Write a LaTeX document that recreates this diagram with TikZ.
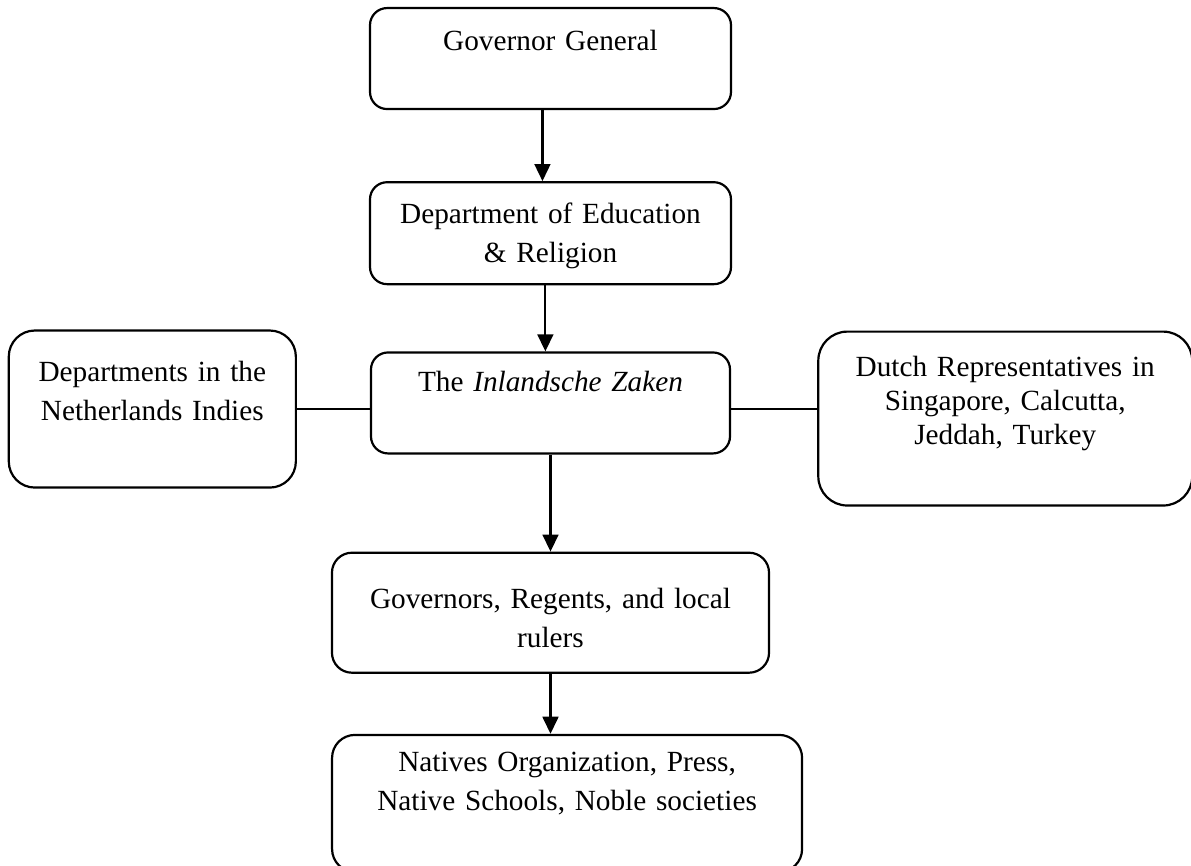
\documentclass[tikz,border=0pt]{standalone}
\usepackage{fontspec}
\setmainfont{Liberation Serif}
\usepackage{tikz}
\usetikzlibrary{positioning}
\usetikzlibrary{arrows.meta}
\tikzstyle{arrow} = [line width=0.9pt,-{Triangle[length=7pt,width=6.5pt]}]
\tikzstyle{orgbox} = [draw,line width=0.9pt,align=center,inner xsep=4pt,inner ysep=0pt,font=\fontsize{12pt}{16pt}\selectfont]

\begin{document}
\begin{tikzpicture}
	\useasboundingbox (0,0) rectangle (488.3pt,-354.65pt);

	%Nodes
	\node [orgbox,rounded corners=7pt,text width=140pt,text height=17.6pt,text depth=23.8pt] (GovGen) at (225.7pt,-24pt) {Governor General};
	\node [orgbox,rounded corners=7pt,text width=140pt,text height=16.8pt,text depth=25pt,below=29.1pt of GovGen] (Edu) {Department of Education\\ \& Religion};
	\node [orgbox,rounded corners=7pt,text width=139.2pt,text height=16pt,text depth=25.4pt,below=27.1pt of Edu] (Zaken) {The \textit{Inlandsche Zaken}};
	\node [orgbox,rounded corners=10.7pt,text width=109.7pt,text height=21pt,text depth=43.4pt,left=29.9pt of Zaken,yshift=-2.5pt] (Depts) {Departments in the\\ Netherlands Indies};
	\node [orgbox,rounded corners=11.9pt,text width=145.3pt,text height=18.5pt,text depth=52.8pt,font=\fontsize{12pt}{13.8pt}\selectfont,right=35.3pt of Zaken,yshift=-6.4pt] (Reps) {Dutch Representatives in\\ Singapore, Calcutta,\\ Jeddah, Turkey};
	\node [orgbox,rounded corners=8.2pt,text width=171.2pt,text height=22.8pt,text depth=26.4pt,below=39.8pt of Zaken] (Rulers) {Governors, Regents, and local\\ rulers};
	\node [orgbox,rounded corners=9.4pt,text width=184.7pt,text height=15pt,text depth=41.2pt,below=24.6pt of Rulers,xshift=6.8pt] (Natives) {Natives Organization, Press,\\ Native Schools, Noble societies};

	%Lines
	\draw[arrow] ([xshift=-3.3pt]GovGen.south) -- ([xshift=-3.3pt]GovGen.south |- Edu.north);
	\draw[arrow] ([xshift=-2.1pt]Edu.south) -- ([xshift=-2.1pt]Edu.south |- Zaken.north);
	\draw[line width=0.9pt] (Depts.east) -- (Depts.east -| Zaken.west);
	\draw[line width=0.9pt] (Depts.east -| Zaken.east) -- (Depts.east -| Reps.west);
	\draw[arrow] (Zaken.south) -- (Rulers.north);
	\draw[arrow] (Rulers.south) -- (Rulers.south |- Natives.north);

\end{tikzpicture}
\end{document}
